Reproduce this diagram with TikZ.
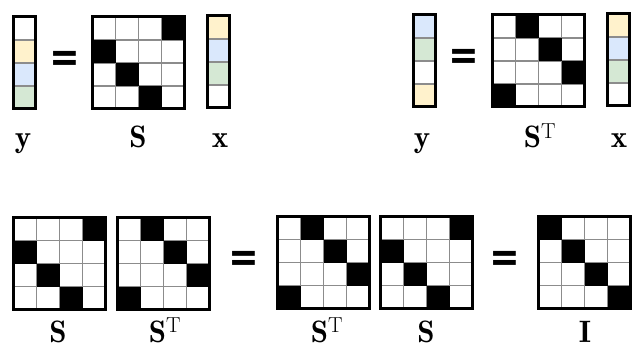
\documentclass[tikz,border=0pt]{standalone}
\usepackage{fontspec}
\newfontfamily\eqfont{Carlito}
\definecolor{cyel}{HTML}{FFF2CC}
\definecolor{cblu}{HTML}{DAE8FC}
\definecolor{cgrn}{HTML}{D5E8D4}

\tikzset{
    frame/.style={draw=black, line width=3pt},
    cellline/.style={draw=gray!90, line width=1.1pt},
    lbl/.style={font=\fontsize{31}{34}\selectfont, anchor=base, inner sep=0pt},
    eqsign/.style={font=\eqfont\bfseries\fontsize{54}{56}\selectfont, inner sep=0pt},
    % 4x4 permutation matrix, argument = black column of each row
    pics/permmat/.style={code={
        \foreach \k in {23,46,69} {
            \draw[cellline] (\k,0) -- (\k,92);
            \draw[cellline] (0,\k) -- (92,\k);
        }
        \foreach \c [count=\r] in {#1}
            \fill[black] (\c*23-23,\r*23-23) rectangle ++(23,23);
        \draw[frame] (0,0) rectangle (92,92);
    }},
    % column vector, argument = colour of each entry
    pics/colvec/.style={code={
        \foreach \col [count=\r] in {#1}
            \fill[\col] (0,\r*23-23) rectangle ++(22,23);
        \foreach \k in {23,46,69}
            \draw[cellline] (0,\k) -- (22,\k);
        \draw[frame] (0,0) rectangle (22,92);
    }}
}

\begin{document}
\begin{tikzpicture}[x=1pt, y=-1pt]
    \useasboundingbox (0,0) rectangle (632,350);

    % y = S x
    \pic (yl) at (13.5,17) {colvec={white,cyel,cblu,cgrn}};
    \node[eqsign] (eq1) at (64.5,63) {=};
    \pic (sl) at (92.5,17) {permmat={4,1,2,3}};
    \pic (xl) at (207.5,16) {colvec={cyel,cblu,cgrn,white}};
    \node[lbl] (ylab1) at (23,148) {$\mathbf{y}$};
    \node[lbl] (slab1) at (138,148) {$\mathbf{S}$};
    \node[lbl] (xlab1) at (220,148) {$\mathbf{x}$};

    % y = S^T x
    \pic (yr) at (413.5,15) {colvec={cblu,cgrn,white,cyel}};
    \node[eqsign] (eq2) at (463.5,61) {=};
    \pic (str) at (492.5,15) {permmat={2,3,4,1}};
    \pic (xr) at (607,14) {colvec={cyel,cblu,cgrn,white}};
    \node[lbl] (ylab2) at (422,148) {$\mathbf{y}$};
    \node[lbl] (slab2) at (540,148) {$\mathbf{S}^{\mathrm{T}}$};
    \node[lbl] (xlab2) at (619,148) {$\mathbf{x}$};

    % S S^T = S^T S = I
    \pic (sa) at (13.5,217.5) {permmat={4,1,2,3}};
    \pic (sta) at (117.5,217.5) {permmat={2,3,4,1}};
    \node[eqsign] (eq3) at (244,263) {=};
    \pic (stb) at (277.5,216.5) {permmat={2,3,4,1}};
    \pic (sb) at (380.5,216.5) {permmat={4,1,2,3}};
    \node[eqsign] (eq4) at (505,263) {=};
    \pic (id) at (538.5,216.5) {permmat={1,2,3,4}};
    \node[lbl] (slab3) at (58,342) {$\mathbf{S}$};
    \node[lbl] (slab4) at (165,342) {$\mathbf{S}^{\mathrm{T}}$};
    \node[lbl] (slab5) at (327,342) {$\mathbf{S}^{\mathrm{T}}$};
    \node[lbl] (slab6) at (426,342) {$\mathbf{S}$};
    \node[lbl] (ilab) at (585,342) {$\mathbf{I}$};
\end{tikzpicture}
\end{document}
